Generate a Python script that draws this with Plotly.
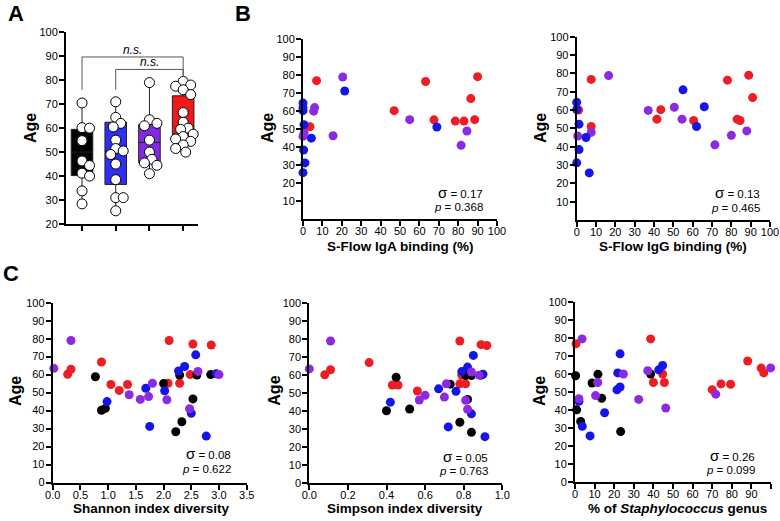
import plotly.graph_objects as go

# ---------------- data ----------------
# Panel A: ages per group (box + points)
group_names = ["black", "blue", "purple", "red"]
a_black = [70.5, 60.2, 60.0, 54.8, 46.3, 44.4, 41.2, 40.0, 33.8, 28.4]
a_blue = [71.0, 64.5, 62.0, 60.5, 55.0, 51.5, 50.5, 49.0, 45.0, 38.5, 31.0, 31.0, 25.5]
a_purple = [79.0, 63.5, 62.0, 61.0, 55.0, 50.0, 47.0, 45.5, 44.5, 41.0]
a_red = [79.5, 78.0, 77.5, 77.0, 76.0, 74.0, 66.5, 62.5, 60.0, 59.5, 57.5, 56.5,
         55.5, 54.5, 54.0, 53.0, 51.5, 50.0]
box_q1 = [40.2, 36.5, 45.5, 56.5]
box_median = [50.0, 50.5, 54.0, 57.5]
box_q3 = [59.5, 62.5, 61.5, 73.5]
box_low = [28.4, 25.5, 41.0, 50.0]
box_high = [70.5, 71.0, 79.0, 79.5]
# significance brackets: (from group, to group, height, left leg end, right leg end)
brackets = [(0, 3, 89.7, 76.0, 81.5), (1, 3, 84.5, 76.0, 81.5)]
bracket_label = "n.s."

# Panel B1: S-Flow IgA binding (%)
b1_red_x = [7.0, 3.6, 47.0, 63.2, 67.5, 78.5, 83.0, 86.5, 88.5, 90.0]
b1_red_y = [77.0, 51.4, 60.3, 76.5, 55.2, 54.5, 54.5, 67.0, 55.3, 79.2]
b1_blue_x = [0.0, 0.0, 0.0, 0.5, 0.3, 1.0, 0.0, 4.3, 21.5, 69.0]
b1_blue_y = [64.5, 62.0, 60.3, 52.5, 38.4, 31.2, 25.8, 45.0, 71.2, 51.2]
b1_purple_x = [0.0, 0.6, 6.0, 5.5, 15.5, 20.5, 55.0, 81.5, 84.5]
b1_purple_y = [46.0, 48.0, 62.0, 60.0, 46.3, 79.0, 55.3, 41.0, 49.0]
b1_stats = ("0.17", "0.368")

# Panel B2: S-Flow IgG binding (%)
b2_red_x = [7.5, 7.5, 1.0, 41.5, 43.5, 60.5, 78.0, 83.0, 84.5, 89.0, 91.0]
b2_red_y = [76.7, 51.0, 60.0, 55.0, 60.2, 54.3, 76.3, 55.0, 54.3, 79.0, 66.8]
b2_blue_x = [0.0, 0.0, 1.2, 1.2, 0.0, 6.5, 4.8, 55.0, 66.0, 62.0]
b2_blue_y = [64.2, 60.3, 52.3, 38.4, 31.2, 25.7, 45.0, 71.0, 61.8, 51.0]
b2_purple_x = [0.5, 7.5, 16.5, 37.0, 50.5, 54.5, 71.5, 80.0, 88.0]
b2_purple_y = [45.8, 47.8, 78.8, 59.8, 61.5, 55.0, 41.0, 46.2, 48.6]
b2_stats = ("0.13", "0.465")

# Panel C1: Shannon index diversity
c1_red_x = [0.27, 0.33, 0.88, 1.05, 1.2, 1.35, 2.08, 2.1, 2.29, 2.48, 2.53, 2.86]
c1_red_y = [60.2, 63.0, 67.0, 54.5, 51.2, 54.5, 55.2, 79.0, 55.2, 60.0, 77.0, 76.5]
c1_black_x = [0.77, 0.88, 0.95, 2.0, 2.22, 2.29, 2.33, 2.53, 2.6, 2.85]
c1_black_y = [58.8, 40.2, 41.2, 55.0, 28.2, 59.8, 33.8, 46.5, 59.8, 60.0]
c1_blue_x = [0.98, 1.68, 1.75, 2.02, 2.27, 2.38, 2.5, 2.58, 2.77, 2.95]
c1_blue_y = [45.0, 52.4, 31.2, 51.0, 62.0, 64.5, 38.5, 71.0, 25.8, 60.5]
c1_purple_x = [0.02, 0.33, 1.38, 1.58, 1.73, 1.8, 2.06, 2.47, 2.62, 3.0]
c1_purple_y = [63.5, 79.0, 48.8, 46.2, 47.8, 55.2, 46.0, 41.0, 61.8, 60.0]
c1_stats = ("0.08", "0.622")

# Panel C2: Simpson index diversity
c2_red_x = [0.08, 0.11, 0.31, 0.43, 0.46, 0.56, 0.78, 0.78, 0.79, 0.81, 0.89, 0.92]
c2_red_y = [60.2, 63.0, 67.0, 54.5, 54.5, 51.2, 79.0, 55.2, 60.0, 55.2, 77.0, 76.5]
c2_black_x = [0.40, 0.45, 0.52, 0.73, 0.78, 0.81, 0.82, 0.84, 0.84, 0.89]
c2_black_y = [40.2, 58.8, 41.2, 55.0, 33.8, 59.8, 46.5, 28.2, 59.8, 60.0]
c2_blue_x = [0.42, 0.67, 0.72, 0.76, 0.79, 0.82, 0.84, 0.85, 0.91, 0.90]
c2_blue_y = [45.0, 52.4, 31.2, 51.0, 62.0, 64.5, 38.5, 71.0, 25.8, 60.5]
c2_purple_x = [0.0, 0.11, 0.57, 0.60, 0.71, 0.70, 0.81, 0.82, 0.84, 0.88]
c2_purple_y = [63.5, 79.0, 46.2, 48.8, 55.2, 47.8, 46.0, 41.0, 61.8, 60.0]
c2_stats = ("0.05", "0.763")

# Panel C3: % of Staphylococcus genus
c3_red_x = [0.5, 38.6, 44.7, 40.0, 45.6, 70.0, 74.5, 79.4, 88.1, 95.0, 96.3]
c3_red_y = [76.8, 79.5, 60.0, 55.3, 55.3, 51.3, 54.5, 54.3, 67.2, 63.3, 60.6]
c3_black_x = [0.3, 0.85, 2.9, 8.7, 11.7, 13.6, 23.3, 38.6]
c3_black_y = [59.0, 40.1, 33.6, 55.0, 59.8, 46.5, 28.0, 60.0]
c3_blue_x = [2.0, 3.7, 7.7, 15.1, 21.8, 21.4, 23.0, 23.0, 42.7, 44.7]
c3_blue_y = [44.8, 31.0, 25.6, 38.5, 60.6, 51.2, 52.8, 71.2, 62.3, 64.7]
c3_purple_x = [2.0, 3.6, 10.5, 11.6, 24.7, 32.5, 37.1, 46.3, 71.8, 99.8]
c3_purple_y = [46.3, 79.5, 48.0, 55.3, 60.0, 45.9, 61.8, 41.1, 48.8, 63.4]
c3_stats = ("0.26", "0.099")

# ---------------- styling ----------------
W, H = 780, 521
FONT = "Liberation Sans, Arial, Helvetica, sans-serif"
COL = {"black": "#000000", "blue": "#1515E8", "purple": "#8A2BE2", "red": "#EE1C25"}
BOXCOL = {"black": "#000000", "blue": "#2E2EF5", "purple": "#8428E6", "red": "#F01818"}


def fx(px):
    return px / W


def fy(py):
    return 1 - py / H


def axis_style(**kw):
    d = dict(showline=True, linecolor="black", linewidth=2, ticks="outside",
             ticklen=5, tickwidth=1.5, tickcolor="black", showgrid=False,
             zeroline=False, tickangle=0, fixedrange=True, automargin=False,
             tickfont=dict(size=11, color="black", family=FONT))
    d.update(kw)
    return d


fig = go.Figure()
layout_axes = {}

# panel geometry in pixels: (x left, x right, y top, y bottom)
panels = {
    "A": dict(n="", geo=(66, 198, 32.3, 224)),
    "B1": dict(n="2", geo=(303, 497, 39.3, 219)),
    "B2": dict(n="3", geo=(576.7, 770, 36.7, 220)),
    "C1": dict(n="4", geo=(52.7, 246.7, 302.7, 482.5)),
    "C2": dict(n="5", geo=(309.3, 502.3, 303.3, 483)),
    "C3": dict(n="6", geo=(575, 771, 302, 482)),
}


def add_axes(key, xkw, ykw):
    p = panels[key]
    n = p["n"]
    x0, x1, yt, yb = p["geo"]
    layout_axes["xaxis" + n] = axis_style(domain=[fx(x0), fx(x1)], anchor="y" + n,
                                          ticklabelstandoff=-4, **xkw)
    layout_axes["yaxis" + n] = axis_style(domain=[fy(yb), fy(yt)], anchor="x" + n,
                                          ticklabelstandoff=-1, **ykw)


# ---- Panel A ----
add_axes("A",
         dict(range=[-0.475, 3.44], tickvals=[0, 1, 2, 3], showticklabels=False),
         dict(range=[20, 100], tickvals=list(range(20, 101, 10))))

a_groups = [a_black, a_blue, a_purple, a_red]
for i, g in enumerate(group_names):
    fig.add_trace(go.Box(x=[i], q1=[box_q1[i]], median=[box_median[i]], q3=[box_q3[i]],
                         lowerfence=[box_low[i]], upperfence=[box_high[i]],
                         width=0.64, whiskerwidth=0, fillcolor=BOXCOL[g],
                         line=dict(color="#222222", width=1), boxpoints=False,
                         showlegend=False, xaxis="x", yaxis="y", hoverinfo="skip"))


def swarm(values, px_per_val, px_per_cat, diam=7.5, step=2.5):
    placed, offs = [], []
    for v in values:
        ypx = v * px_per_val
        cands = [0.0]
        for k in range(1, 40):
            cands += [k * step, -k * step]
        chosen = cands[-1]
        for c in cands:
            if all((c - px) ** 2 + (ypx - py) ** 2 >= diam ** 2 for px, py in placed):
                chosen = c
                break
        placed.append((chosen, ypx))
        offs.append(chosen / px_per_cat)
    return offs


px_per_val_A = (224 - 32.3) / 80.0
px_per_cat_A = 33.67
for i, vals in enumerate(a_groups):
    offs = swarm(vals, px_per_val_A, px_per_cat_A)
    fig.add_trace(go.Scatter(x=[i + o for o in offs], y=vals, mode="markers",
                             marker=dict(size=10, color="white",
                                         line=dict(color="black", width=1)),
                             cliponaxis=False, showlegend=False, xaxis="x", yaxis="y",
                             hoverinfo="skip"))

for (g0, g1, top, leg0, leg1) in brackets:
    fig.add_trace(go.Scatter(x=[g0, g0, g1, g1], y=[leg0, top, top, leg1], mode="lines",
                             line=dict(color="#555555", width=1), cliponaxis=False,
                             showlegend=False, xaxis="x", yaxis="y", hoverinfo="skip"))

annotations = []
for (g0, g1, top, leg0, leg1) in brackets:
    annotations.append(dict(x=(g0 + g1) / 2, y=top, xref="x", yref="y", text="<i>" + bracket_label + "</i>",
                            showarrow=False, yanchor="bottom", yshift=-2,
                            font=dict(size=12, color="black", family=FONT)))

# ---- scatter panels ----
def add_scatter(n, series):
    for color, xs, ys in series:
        fig.add_trace(go.Scatter(x=xs, y=ys, mode="markers",
                                 marker=dict(size=9, color=COL[color], line=dict(width=0)),
                                 cliponaxis=False, showlegend=False,
                                 xaxis="x" + n, yaxis="y" + n, hoverinfo="skip"))


add_axes("B1", dict(range=[0, 100], tickvals=list(range(0, 101, 10))),
         dict(range=[0, 100], tickvals=list(range(10, 101, 10))))
add_scatter("2", [("red", b1_red_x, b1_red_y), ("purple", b1_purple_x, b1_purple_y),
                  ("blue", b1_blue_x, b1_blue_y)])

add_axes("B2", dict(range=[0, 100], tickvals=list(range(0, 101, 10))),
         dict(range=[0, 100], tickvals=list(range(10, 101, 10))))
add_scatter("3", [("red", b2_red_x, b2_red_y), ("purple", b2_purple_x, b2_purple_y),
                  ("blue", b2_blue_x, b2_blue_y)])

add_axes("C1", dict(range=[0, 3.5], tickvals=[0, 0.5, 1, 1.5, 2, 2.5, 3, 3.5], tickformat=".1f"),
         dict(range=[0, 100], tickvals=list(range(0, 101, 10))))
add_scatter("4", [("red", c1_red_x, c1_red_y), ("black", c1_black_x, c1_black_y),
                  ("blue", c1_blue_x, c1_blue_y), ("purple", c1_purple_x, c1_purple_y)])

add_axes("C2", dict(range=[0, 1], tickvals=[0, 0.2, 0.4, 0.6, 0.8, 1.0], tickformat=".1f"),
         dict(range=[0, 100], tickvals=list(range(0, 101, 10))))
add_scatter("5", [("red", c2_red_x, c2_red_y), ("black", c2_black_x, c2_black_y),
                  ("blue", c2_blue_x, c2_blue_y), ("purple", c2_purple_x, c2_purple_y)])

add_axes("C3", dict(range=[0, 100], tickvals=list(range(0, 101, 10))),
         dict(range=[0, 100], tickvals=list(range(0, 101, 10))))
add_scatter("6", [("red", c3_red_x, c3_red_y), ("black", c3_black_x, c3_black_y),
                  ("blue", c3_blue_x, c3_blue_y), ("purple", c3_purple_x, c3_purple_y)])


# ---- text annotations (paper coords from pixels) ----
def txt(px, py, text, size, bold=False, angle=0, xanchor="center"):
    t = "<b>" + text + "</b>" if bold else text
    annotations.append(dict(x=fx(px), y=fy(py), xref="paper", yref="paper", text=t,
                            showarrow=False, textangle=angle, xanchor=xanchor,
                            yanchor="middle",
                            font=dict(size=size, color="black", family=FONT)))


# panel letters
txt(16, 14, "A", 22, bold=True)
txt(243, 14, "B", 22, bold=True)
txt(11, 273, "C", 22, bold=True)

# y titles
for (px, py) in [(31, 128), (268, 128), (541, 128), (15, 391), (273.7, 391), (539, 391)]:
    txt(px, py, "Age", 16, bold=True, angle=-90)

# x titles
txt(400, 246, "S-Flow IgA binding (%)", 13.5, bold=True)
txt(673, 246, "S-Flow IgG binding (%)", 13.5, bold=True)
txt(151, 508, "Shannon index diversity", 13.5, bold=True)
txt(405, 508, "Simpson index diversity", 13.5, bold=True)
txt(677, 508, "% of <i>Staphylococcus</i> genus", 13.5, bold=True)

# correlation stats
for (rx, sy, py_, stats) in [(485, 192, 207, b1_stats), (762, 192.5, 207.5, b2_stats),
                              (233, 453, 469, c1_stats), (490, 456, 471, c2_stats),
                              (757, 455, 470, c3_stats)]:
    txt(rx, sy, "<span style='font-size:15px'>σ</span> = " + stats[0], 11.5, xanchor="right")
    txt(rx, py_, "<i>p</i> = " + stats[1], 11.5, xanchor="right")

fig.update_layout(width=W, height=H, margin=dict(l=0, r=0, t=0, b=0, autoexpand=False),
                  paper_bgcolor="white", plot_bgcolor="white", boxmode="overlay",
                  showlegend=False, annotations=annotations,
                  font=dict(family=FONT, color="black"), **layout_axes)

fig.write_html("out.html", config={"displayModeBar": False},
               post_script="document.body.style.margin='0';document.body.style.overflow='hidden';")
